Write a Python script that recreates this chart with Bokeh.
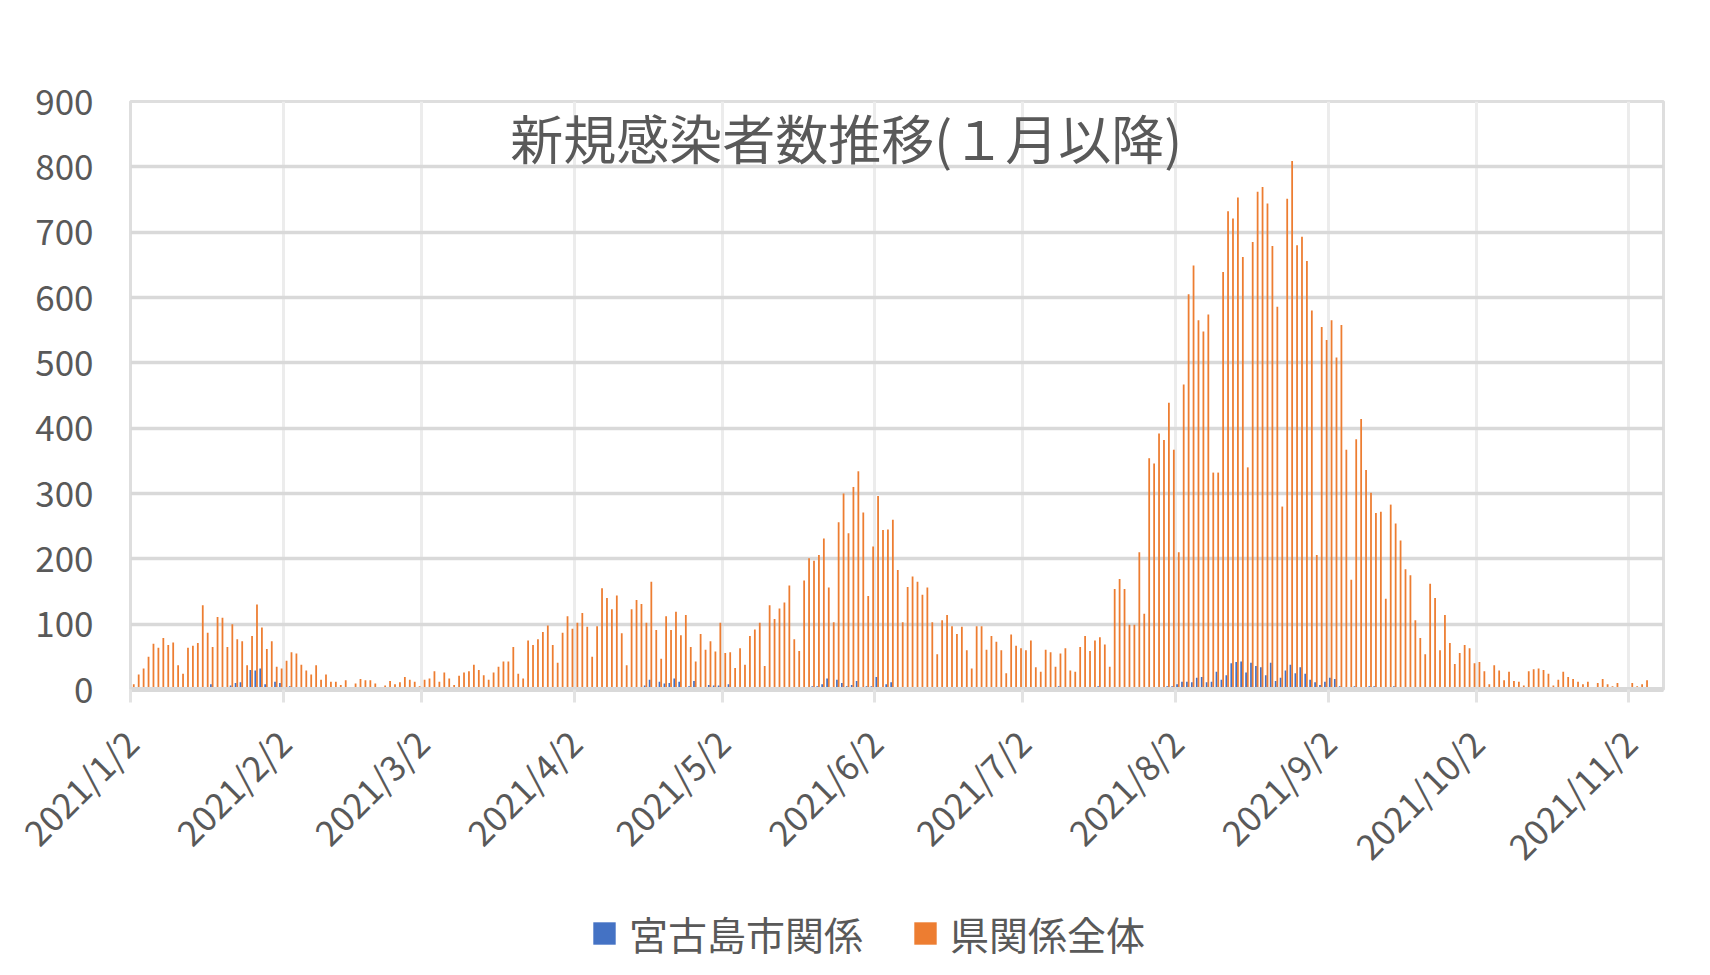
import math
from bokeh.plotting import figure
from bokeh.layouts import column
from bokeh.models import Range1d, FixedTicker, Label, Legend, LegendItem, ColumnDataSource
from bokeh.embed import file_html
from bokeh.resources import INLINE

# ---------------- data ----------------
start_date = "2021/1/2"   # first day of the series (day index 0)

# 県関係全体 (daily new cases, Okinawa prefecture total)
prefecture = [
    8, 23, 32, 50, 70, 64, 79, 68, 72, 37,
    24, 64, 67, 71, 129, 87, 65, 111, 110, 65,
    100, 77, 74, 37, 82, 130, 95, 62, 74, 35,
    32, 44, 57, 55, 38, 29, 23, 37, 15, 23,
    12, 12, 7, 14, 2, 9, 16, 14, 14, 9,
    4, 6, 13, 8, 11, 19, 15, 12, 5, 15,
    17, 28, 12, 26, 17, 7, 21, 26, 28, 38,
    30, 22, 15, 26, 35, 43, 43, 65, 24, 17,
    75, 68, 77, 88, 98, 68, 41, 87, 112, 93,
    102, 117, 96, 50, 97, 155, 140, 123, 144, 86,
    37, 123, 137, 131, 102, 165, 91, 47, 112, 91,
    119, 83, 114, 65, 43, 85, 61, 74, 58, 102,
    56, 57, 33, 63, 38, 82, 92, 102, 36, 129,
    108, 124, 133, 159, 77, 59, 167, 201, 197, 206,
    231, 156, 103, 256, 300, 239, 310, 334, 271, 143,
    219, 296, 244, 245, 260, 183, 103, 157, 173, 165,
    145, 156, 103, 54, 106, 114, 97, 85, 96, 60,
    32, 97, 97, 61, 82, 73, 60, 25, 84, 67,
    63, 60, 75, 34, 27, 61, 57, 35, 55, 63,
    29, 27, 65, 82, 59, 75, 80, 69, 35, 154,
    169, 154, 99, 99, 210, 116, 354, 346, 392, 382,
    439, 367, 210, 467, 605, 649, 565, 548, 574, 332,
    332, 639, 732, 721, 753, 662, 340, 685, 762, 769,
    744, 679, 586, 280, 751, 809, 680, 693, 656, 580,
    206, 555, 535, 565, 508, 558, 367, 168, 383, 414,
    336, 301, 270, 272, 139, 283, 254, 228, 184, 175,
    106, 79, 54, 162, 140, 60, 114, 71, 39, 56,
    68, 63, 40, 42, 28, 8, 37, 29, 14, 27,
    13, 12, 6, 28, 31, 32, 30, 24, 6, 15,
    27, 19, 16, 12, 8, 12, 3, 10, 16, 8,
    5, 10, 0, 0, 10, 5, 8, 14,
]

# 宮古島市関係 (daily new cases, Miyakojima city)
miyako = [
    0, 0, 0, 0, 0, 0, 0, 0, 0, 0,
    0, 2, 0, 0, 0, 3, 8, 2, 3, 0,
    6, 10, 11, 1, 30, 29, 32, 8, 0, 12,
    10, 0, 5, 0, 0, 0, 0, 0, 0, 0,
    0, 0, 0, 0, 0, 0, 0, 0, 0, 0,
    0, 0, 0, 0, 0, 0, 0, 0, 0, 0,
    0, 0, 0, 0, 0, 0, 0, 0, 0, 0,
    0, 0, 0, 0, 0, 0, 0, 0, 0, 0,
    0, 0, 0, 0, 0, 0, 0, 0, 0, 0,
    0, 0, 0, 0, 0, 0, 0, 0, 0, 0,
    0, 0, 0, 0, 6, 15, 0, 12, 9, 10,
    17, 12, 0, 5, 13, 0, 0, 7, 6, 6,
    0, 8, 0, 0, 0, 0, 0, 0, 0, 0,
    0, 0, 3, 0, 0, 3, 0, 0, 5, 5,
    8, 17, 3, 15, 10, 5, 7, 13, 2, 5,
    5, 19, 3, 8, 11, 3, 0, 0, 4, 0,
    3, 0, 0, 3, 0, 0, 3, 0, 0, 0,
    0, 0, 0, 0, 0, 0, 0, 0, 0, 0,
    0, 0, 0, 0, 0, 0, 0, 0, 5, 0,
    0, 0, 0, 0, 0, 0, 5, 0, 0, 0,
    3, 0, 0, 0, 0, 0, 0, 0, 4, 0,
    5, 5, 8, 12, 12, 11, 18, 19, 11, 12,
    27, 15, 22, 40, 42, 43, 26, 41, 36, 34,
    22, 41, 13, 18, 29, 38, 25, 34, 24, 15,
    11, 7, 12, 18, 16, 5, 0, 0, 5, 2,
    0, 5, 5, 0, 0, 0, 5, 0, 0, 0,
    0, 0, 0, 3, 0, 0, 0, 0, 0, 0,
    0, 2, 0, 0, 2, 0, 0, 0, 0, 0,
    0, 0, 0, 0, 0, 0, 0, 0, 0, 0,
    0, 0, 0, 0, 0, 0, 0, 0, 0, 0,
    0, 0, 0, 0, 0, 0, 0, 0,
]

# x tick positions (day index from 2021/1/2) and labels
tick_days = [0, 31, 59, 90, 120, 151, 181, 212, 243, 273, 304]
tick_labels = ["2021/1/2", "2021/2/2", "2021/3/2", "2021/4/2", "2021/5/2", "2021/6/2",
               "2021/7/2", "2021/8/2", "2021/9/2", "2021/10/2", "2021/11/2"]
y_ticks = [0, 100, 200, 300, 400, 500, 600, 700, 800, 900]

series_names = ["宮古島市関係", "県関係全体"]
title_text = "新規感染者数推移(１月以降)"

BLUE = "#4472C4"
ORANGE = "#ED7D31"
TXT = "#595959"
FONT = "Noto Sans CJK JP"

days = list(range(len(prefecture)))
src = ColumnDataSource(dict(
    xb=[d + 0.32 for d in days],
    xo=[d + 0.66 for d in days],
    miyako=miyako,
    pref=prefecture,
))

W = 1710
H1, H2 = 900, 70
p = figure(width=W, height=H1, output_backend="svg", toolbar_location=None,
           x_range=Range1d(0, 311), y_range=Range1d(0, 900),
           min_border_left=130, min_border_right=47, min_border_top=101,
           min_border_bottom=211)
p.background_fill_color = "white"
p.border_fill_color = "white"
p.outline_line_color = "#dedede"
p.outline_line_width = 3

rb = p.vbar(x="xb", top="miyako", width=0.36, source=src, fill_color=BLUE, line_color=None)
ro = p.vbar(x="xo", top="pref", width=0.36, source=src, fill_color=ORANGE, line_color=None)

# axes
xt = FixedTicker(ticks=tick_days)
p.xaxis.ticker = xt
p.xaxis.major_label_overrides = {d: lab for d, lab in zip(tick_days, tick_labels)}
p.xaxis.major_label_orientation = math.pi / 4
p.xaxis.major_label_text_font = FONT
p.xaxis.major_label_text_font_size = "35px"
p.xaxis.major_label_text_color = TXT
p.xaxis.major_label_standoff = 33
p.xaxis.axis_line_color = "#d9d9d9"
p.xaxis.axis_line_width = 5
p.xaxis.major_tick_line_color = "#e3e3e3"
p.xaxis.major_tick_line_width = 3
p.xaxis.major_tick_out = 13
p.xaxis.major_tick_in = 0
p.xaxis.minor_tick_line_color = None

p.yaxis.ticker = FixedTicker(ticks=y_ticks)
p.yaxis.major_label_text_font = FONT
p.yaxis.major_label_text_font_size = "35px"
p.yaxis.major_label_text_color = TXT
p.yaxis.major_label_standoff = 37
p.yaxis.axis_line_color = None
p.yaxis.major_tick_line_color = None
p.yaxis.major_tick_out = 0
p.yaxis.major_tick_in = 0
p.yaxis.minor_tick_line_color = None

p.xgrid.ticker = xt
p.xgrid.grid_line_color = "#ececec"
p.xgrid.grid_line_width = 3
p.ygrid.grid_line_color = "#d9d9d9"
p.ygrid.grid_line_width = 3.5

# title drawn inside the plot area like the original
p.add_layout(Label(x=145.2, y=845, text=title_text, text_font=FONT,
                   text_font_size="53px", text_color=TXT,
                   text_align="center", text_baseline="middle"))

# ---- legend strip below the chart ----
p2 = figure(width=W, height=H2, output_backend="svg", toolbar_location=None,
            x_range=Range1d(0, 1), y_range=Range1d(0, 1),
            x_axis_type=None, y_axis_type=None,
            min_border_left=0, min_border_right=0, min_border_top=0, min_border_bottom=0)
p2.outline_line_color = None
p2.grid.visible = False
p2.background_fill_color = "white"
p2.border_fill_color = "white"
# legend-only renderers (their single mark lies outside the visible range)
lb = p2.vbar(x=[-5], top=[-5], width=0.1, fill_color=BLUE, line_color=None)
lo = p2.vbar(x=[-5], top=[-5], width=0.1, fill_color=ORANGE, line_color=None)

legend = Legend(items=[LegendItem(label=series_names[0], renderers=[lb], index=0),
                       LegendItem(label=series_names[1], renderers=[lo], index=0)],
                location=(460, 9), orientation="horizontal",
                label_text_font=FONT, label_text_font_size="39px",
                label_text_color=TXT, glyph_width=28, glyph_height=28,
                label_standoff=11, spacing=48, padding=0, margin=0,
                border_line_color=None, background_fill_alpha=0)
p2.add_layout(legend)

layout = column(p, p2, spacing=0)
open("out.html", "w").write(file_html(layout, INLINE))
